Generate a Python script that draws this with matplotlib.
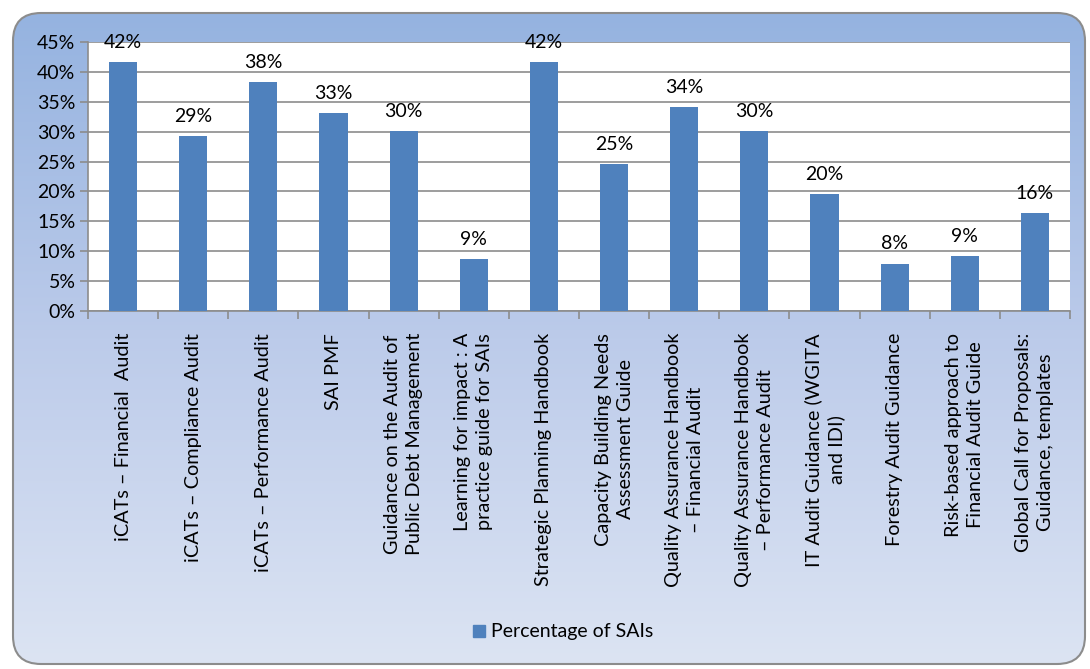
import numpy as np
import matplotlib.pyplot as plt
from matplotlib.patches import FancyBboxPatch
from matplotlib.lines import Line2D
from matplotlib.colors import LinearSegmentedColormap

plt.rcParams['font.family'] = ['Lato', 'DejaVu Sans']

categories = [
    "iCATs – Financial  Audit",
    "iCATs – Compliance Audit",
    "iCATs – Performance Audit",
    "SAI PMF",
    "Guidance on the Audit of\nPublic Debt Management",
    "Learning for impact : A\npractice guide for SAIs",
    "Strategic Planning Handbook",
    "Capacity Building Needs\nAssessment Guide",
    "Quality Assurance Handbook\n– Financial Audit",
    "Quality Assurance Handbook\n– Performance Audit",
    "IT Audit Guidance (WGITA\nand IDI)",
    "Forestry Audit Guidance",
    "Risk-based approach to\nFinancial Audit Guide",
    "Global Call for Proposals:\nGuidance, templates",
]
pct_sais = [0.417, 0.293, 0.384, 0.331, 0.301, 0.086, 0.417,
            0.246, 0.341, 0.301, 0.196, 0.079, 0.092, 0.164]
y_ticks = [0, 0.05, 0.10, 0.15, 0.20, 0.25, 0.30, 0.35, 0.40, 0.45]

bar_color = "#4f81bd"
text_color = "#000000"
axis_gray = "#8c8c8c"

fig = plt.figure(figsize=(10.9, 6.69), dpi=100)

# chart background: rounded box with vertical blue gradient
bg_ax = fig.add_axes([0, 0, 1, 1], zorder=0)
bg_ax.set_xlim(0, 1090)
bg_ax.set_ylim(669, 0)
bg_ax.axis("off")
box = FancyBboxPatch((13, 13), 1072, 651, boxstyle="round,pad=0,rounding_size=28",
                     facecolor="none", edgecolor=axis_gray, linewidth=1.5, zorder=3)
bg_ax.add_patch(box)
grad = np.linspace(0, 1, 256).reshape(-1, 1)
cmap = LinearSegmentedColormap.from_list("bg", ["#95b3e0", "#bccbea", "#dce4f3"])
img = bg_ax.imshow(grad, cmap=cmap, extent=[13, 1085, 664, 13], aspect="auto", zorder=1)
img.set_clip_path(box)

ax = fig.add_axes([88 / 1090, 1 - 310.7 / 669, (1070 - 88) / 1090, (310.7 - 42.3) / 669], zorder=2)
ax.set_facecolor("white")

x = np.arange(len(categories))
ax.bar(x, pct_sais, width=0.4, color=bar_color, zorder=3)

for xi, v in zip(x, pct_sais):
    ax.annotate(f"{v * 100:.0f}%", (xi, v), xytext=(0, 8), textcoords="offset points",
                ha="center", va="bottom", fontsize=14, color=text_color)

ax.set_xlim(-0.5, len(categories) - 0.5)
ax.set_ylim(0, 0.45)
ax.set_yticks(y_ticks)
ax.set_yticklabels([f"{t * 100:.0f}%" for t in y_ticks], fontsize=14, color=text_color)
ax.yaxis.grid(True, color=axis_gray, linewidth=1.2, zorder=0)
ax.set_axisbelow(True)

ax.set_xticks(x)
ax.set_xticklabels(categories, rotation=90, fontsize=14.3, color=text_color,
                   ha="center", va="top", multialignment="center", linespacing=1.35)
ax.set_xticks(np.arange(len(categories) + 1) - 0.5, minor=True)
ax.tick_params(axis="x", which="major", length=0, pad=16)
ax.tick_params(axis="x", which="minor", length=6, color=axis_gray, width=1.2)
ax.tick_params(axis="y", length=6, color=axis_gray, width=1.2, pad=3)

for side in ["top", "right"]:
    ax.spines[side].set_visible(False)
for side in ["left", "bottom"]:
    ax.spines[side].set_color(axis_gray)
    ax.spines[side].set_linewidth(1.2)

handle = Line2D([], [], marker="s", linestyle="none", markersize=9,
                markerfacecolor=bar_color, markeredgecolor=bar_color)
fig.legend([handle], ["Percentage of SAIs"], loc="center", bbox_to_anchor=(562 / 1090, 1 - 632 / 669),
           frameon=False, fontsize=14, handletextpad=0.15, handlelength=0.9)

fig.savefig("out.png", dpi=100)
